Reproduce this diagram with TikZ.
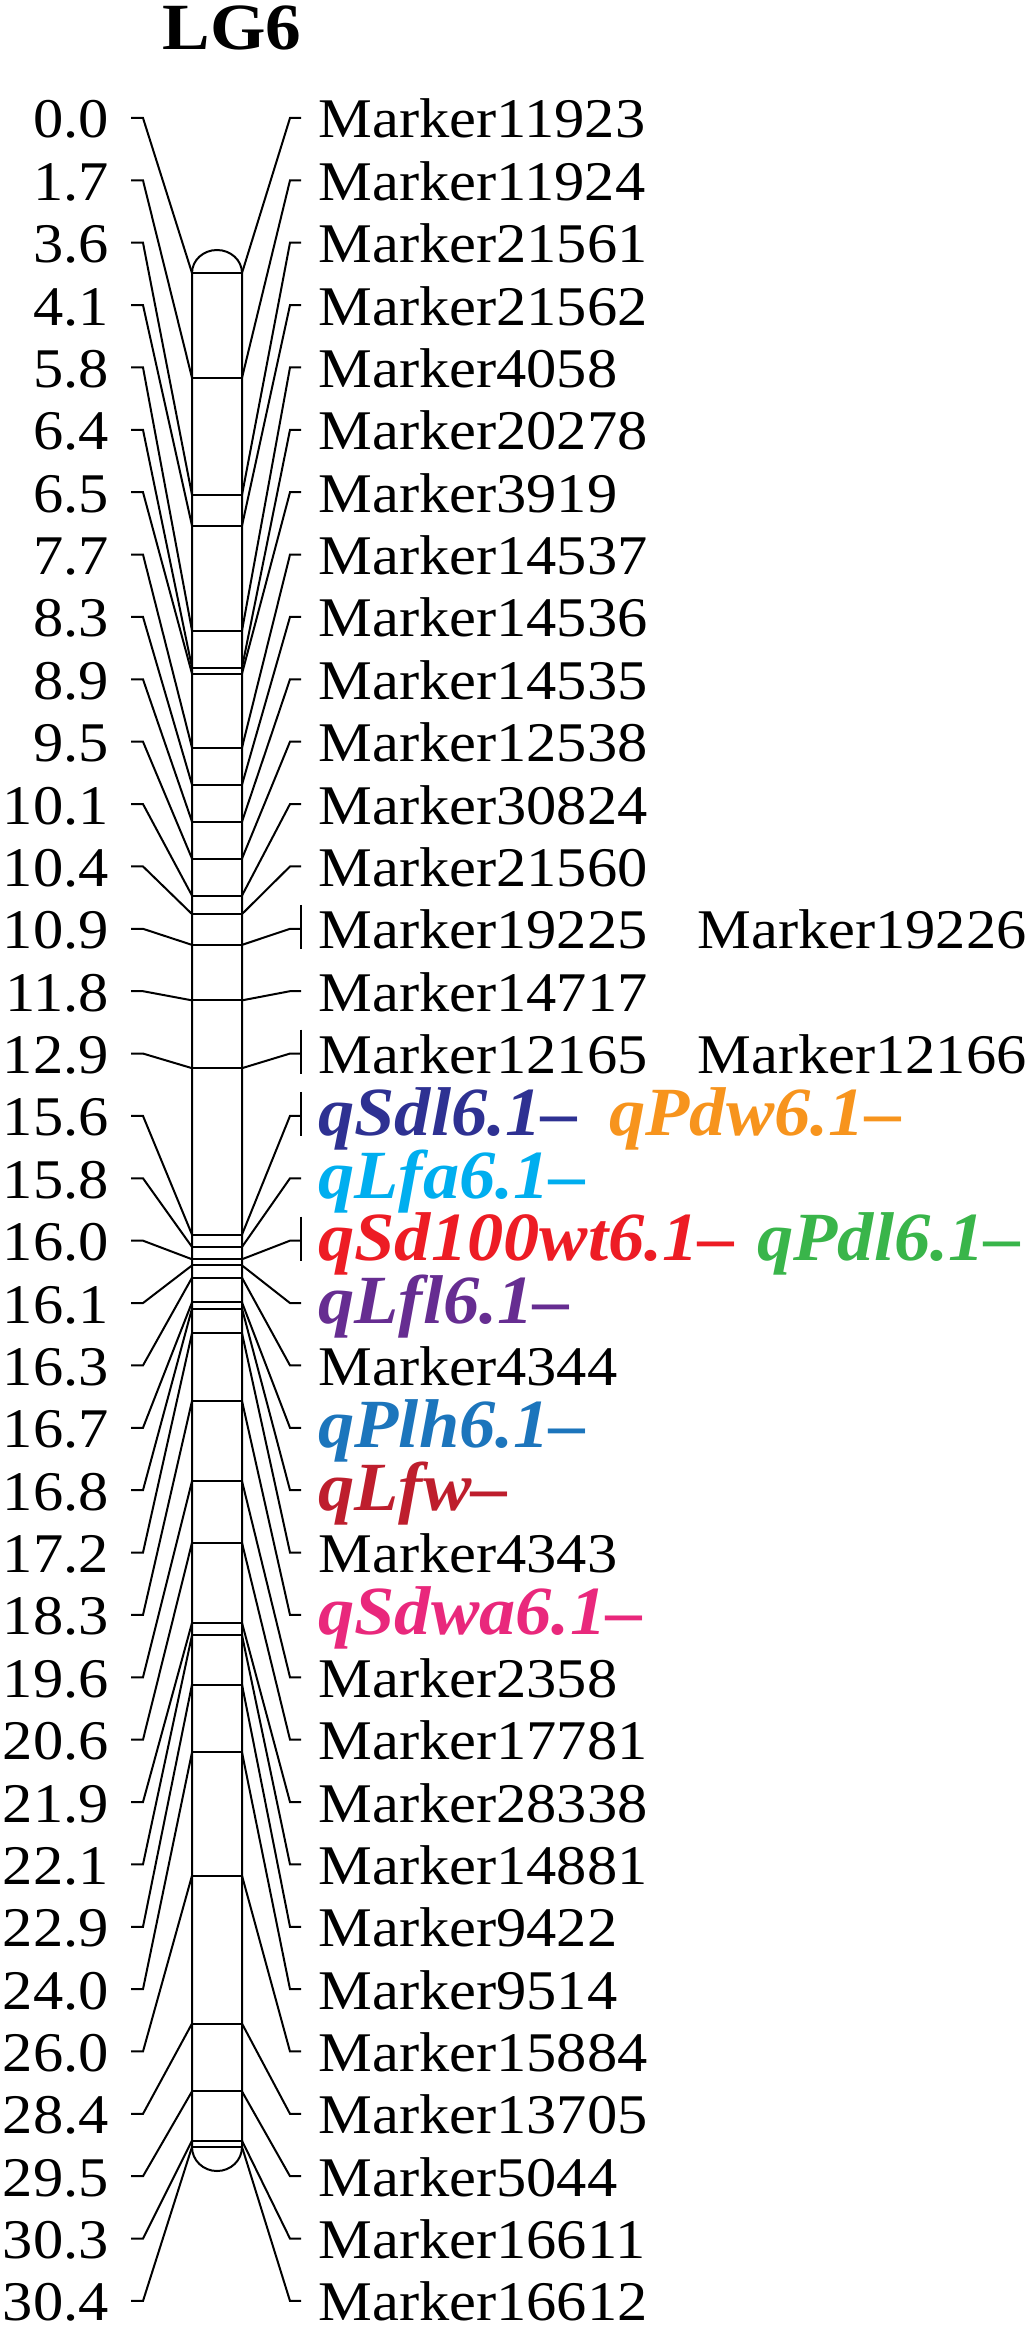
\documentclass[tikz,border=0pt]{standalone}
\usepackage{fontspec}
\setmainfont{Liberation Serif}[FakeStretch=1.08]
\newfontfamily\qtlfamily{Liberation Serif}[FakeStretch=1.05]
\usepackage{xcolor}
\definecolor{cSdl}{RGB}{46,49,146}
\definecolor{cPdw}{RGB}{247,148,29}
\definecolor{cLfa}{RGB}{0,174,239}
\definecolor{cSdwt}{RGB}{237,28,36}
\definecolor{cPdl}{RGB}{57,181,74}
\definecolor{cLfl}{RGB}{102,45,145}
\definecolor{cPlh}{RGB}{28,117,188}
\definecolor{cLfw}{RGB}{190,30,45}
\definecolor{cSdwa}{RGB}{233,40,124}

\newcommand\cmfont{\fontsize{28}{30}\selectfont}
\newcommand\qtlfont{\qtlfamily\bfseries\itshape\fontsize{34.5}{36}\selectfont}
\newcommand\lgfont{\bfseries\fontsize{33}{36}\selectfont}

\tikzset{
  mapline/.style={line width=1pt},
  cmlabel/.style={anchor=base east, inner sep=0pt, font=\cmfont},
  mklabel/.style={anchor=base west, inner sep=0pt, font=\cmfont},
  qtllabel/.style={anchor=base west, inner sep=0pt, font=\qtlfont},
  qtlSdl/.style={qtllabel, text=cSdl},
  qtlPdw/.style={qtllabel, text=cPdw},
  qtlLfa/.style={qtllabel, text=cLfa},
  qtlSdwt/.style={qtllabel, text=cSdwt},
  qtlPdl/.style={qtllabel, text=cPdl},
  qtlLfl/.style={qtllabel, text=cLfl},
  qtlPlh/.style={qtllabel, text=cPlh},
  qtlLfw/.style={qtllabel, text=cLfw},
  qtlSdwa/.style={qtllabel, text=cSdwa},
}

\begin{document}
\begin{tikzpicture}[x=0.5pt,y=-0.5pt]

\useasboundingbox[fill=white] (0,0) rectangle (1033,2328);

% linkage group title
\node[font=\lgfont, anchor=base, inner sep=0pt] (lg) at (232,50) {LG6};

% the chromosome bar with its rounded ends
\draw[mapline] (192,2147) -- (192,273)
  arc[start angle=180, end angle=0, x radius=12.5pt, y radius=11.5pt]
  -- (242,2147)
  arc[start angle=0, end angle=-180, x radius=12.5pt, y radius=12pt];

% one row per locus: position, name, style
\foreach \i/\cm/\name/\sty in {
  0/0.0/Marker11923/mklabel,
  1/1.7/Marker11924/mklabel,
  2/3.6/Marker21561/mklabel,
  3/4.1/Marker21562/mklabel,
  4/5.8/Marker4058/mklabel,
  5/6.4/Marker20278/mklabel,
  6/6.5/Marker3919/mklabel,
  7/7.7/Marker14537/mklabel,
  8/8.3/Marker14536/mklabel,
  9/8.9/Marker14535/mklabel,
  10/9.5/Marker12538/mklabel,
  11/10.1/Marker30824/mklabel,
  12/10.4/Marker21560/mklabel,
  13/10.9/Marker19225/mklabel,
  14/11.8/Marker14717/mklabel,
  15/12.9/Marker12165/mklabel,
  16/15.6/qSdl6.1–/qtlSdl,
  17/15.8/qLfa6.1–/qtlLfa,
  18/16.0/qSd100wt6.1–/qtlSdwt,
  19/16.1/qLfl6.1–/qtlLfl,
  20/16.3/Marker4344/mklabel,
  21/16.7/qPlh6.1–/qtlPlh,
  22/16.8/qLfw–/qtlLfw,
  23/17.2/Marker4343/mklabel,
  24/18.3/qSdwa6.1–/qtlSdwa,
  25/19.6/Marker2358/mklabel,
  26/20.6/Marker17781/mklabel,
  27/21.9/Marker28338/mklabel,
  28/22.1/Marker14881/mklabel,
  29/22.9/Marker9422/mklabel,
  30/24.0/Marker9514/mklabel,
  31/26.0/Marker15884/mklabel,
  32/28.4/Marker13705/mklabel,
  33/29.5/Marker5044/mklabel,
  34/30.3/Marker16611/mklabel,
  35/30.4/Marker16612/mklabel}
{
  \pgfmathsetmacro\ry{118+62.37*\i}
  \pgfmathsetmacro\my{273+61.64*\cm}
  \coordinate (bl\i) at (192,\my);
  \coordinate (br\i) at (242,\my);
  \coordinate (lt\i) at (131,\ry);
  \coordinate (rt\i) at (301,\ry);
  \node[cmlabel] (cm\i) at (109,\ry+20) {\cm};
  \node[\sty] (mk\i) at (318,\ry+20) {\name};
  \draw[mapline] (bl\i) -- (br\i);
  \draw[mapline] (lt\i) -- ++(12,0) -- (bl\i);
  \draw[mapline] (br\i) -- ([xshift=-5.5pt]rt\i) -- (rt\i);
}

% rows that carry two names
\foreach \i in {13,15,16,18}
  \draw[mapline] ([yshift=12pt]rt\i) -- ([yshift=-10pt]rt\i);

\node[mklabel] (mk13b) at ([xshift=189.5pt]mk13.base west) {Marker19226};
\node[mklabel] (mk15b) at ([xshift=189.5pt]mk15.base west) {Marker12166};
\node[qtlPdw] (mk16b) at ([xshift=145.5pt]mk16.base west) {qPdw6.1–};
\node[qtlPdl] (mk18b) at ([xshift=219.5pt]mk18.base west) {qPdl6.1–};

\end{tikzpicture}
\end{document}
